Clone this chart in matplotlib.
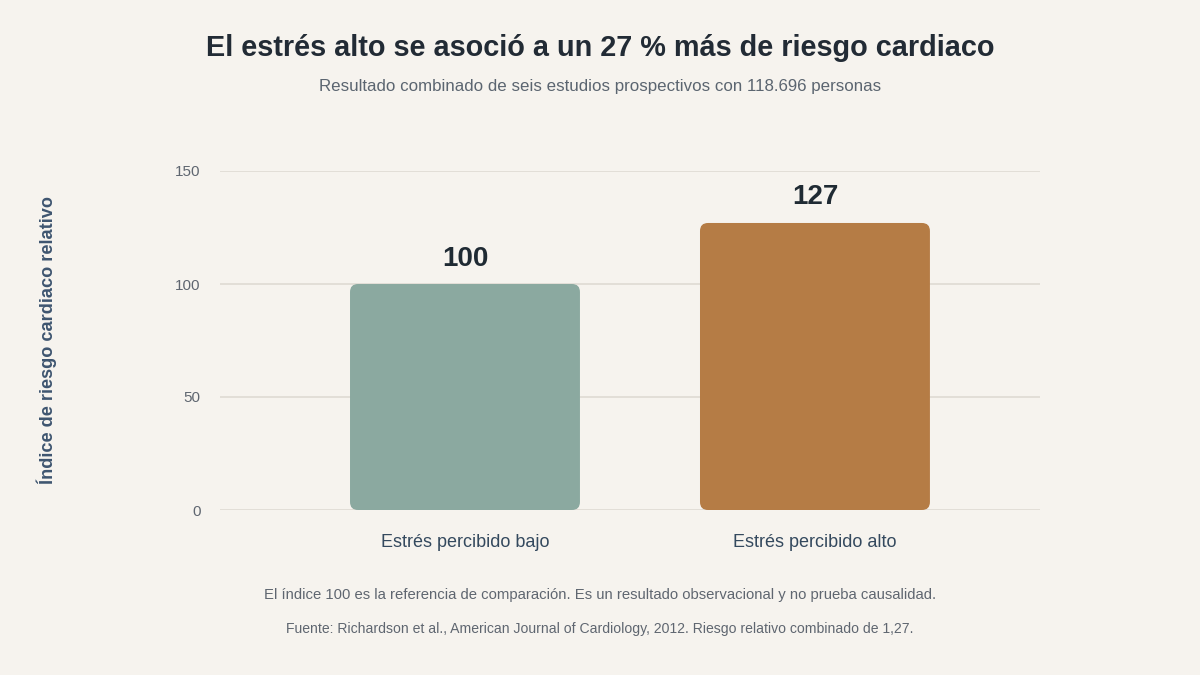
import matplotlib
matplotlib.use("Agg")
import matplotlib.pyplot as plt
from matplotlib.patches import FancyBboxPatch

categories = ["Estrés percibido bajo", "Estrés percibido alto"]
values = [100, 127]
bar_colors = ["#8ba9a0", "#b57c45"]
yticks = [0, 50, 100, 150]

title = "El estrés alto se asoció a un 27 % más de riesgo cardiaco"
subtitle = "Resultado combinado de seis estudios prospectivos con 118.696 personas"
ylabel = "Índice de riesgo cardiaco relativo"
note1 = "El índice 100 es la referencia de comparación. Es un resultado observacional y no prueba causalidad."
note2 = "Fuente: Richardson et al., American Journal of Cardiology, 2012. Riesgo relativo combinado de 1,27."

plt.rcParams['font.family'] = ['Liberation Sans', 'DejaVu Sans']
BG = "#f6f3ee"

fig = plt.figure(figsize=(12, 6.75), dpi=100, facecolor=BG)
ax = fig.add_axes([220/1200, 1-510/675, 820/1200, 339/675])
ax.set_facecolor(BG)

ax.set_xlim(-0.7, 1.643)
ax.set_ylim(0, 150)
ax.set_yticks(yticks)
ax.yaxis.grid(True, color="#e0dcd5", linewidth=1.3)
ax.set_axisbelow(True)
for s in ax.spines.values():
    s.set_visible(False)
ax.tick_params(axis='y', length=0, pad=14, labelsize=11, labelcolor="#5f6670")
ax.tick_params(axis='x', length=0, pad=17, labelsize=13, labelcolor="#34495e")
x = list(range(len(categories)))
ax.set_xticks(x)
ax.set_xticklabels(categories)

fig.canvas.draw()
bbox = ax.get_window_extent()
xpp = (ax.get_xlim()[1]-ax.get_xlim()[0]) / bbox.width
ypp = (ax.get_ylim()[1]-ax.get_ylim()[0]) / bbox.height
aspect = ypp / xpp
width = 0.657
r = 8 * xpp
for xi, v, c in zip(x, values, bar_colors):
    p = FancyBboxPatch((xi - width/2, 0), width, v,
                       boxstyle=f"round,pad=0,rounding_size={r}",
                       mutation_aspect=aspect, facecolor=c, edgecolor="none", zorder=3)
    ax.add_patch(p)
    ax.annotate(str(v), (xi, v), xytext=(0, 9), textcoords="offset points",
                ha="center", va="bottom", fontsize=20, fontweight="bold", color="#1f2a33")

fig.text(0.5, 1-48/675, title, ha="center", va="center", fontsize=20.8, fontweight="bold", color="#222b35")
fig.text(0.5, 1-87/675, subtitle, ha="center", va="center", fontsize=12.2, color="#5b6570")
fig.text(47/1200, 1-340/675, ylabel, ha="center", va="center", rotation=90, fontsize=13.1, fontweight="bold", color="#3e5570")
fig.text(0.5, 1-595/675, note1, ha="center", va="center", fontsize=10.7, color="#5f6670")
fig.text(0.5, 1-629/675, note2, ha="center", va="center", fontsize=10.1, color="#5f6670")

fig.savefig("out.png", dpi=100, facecolor=BG)
